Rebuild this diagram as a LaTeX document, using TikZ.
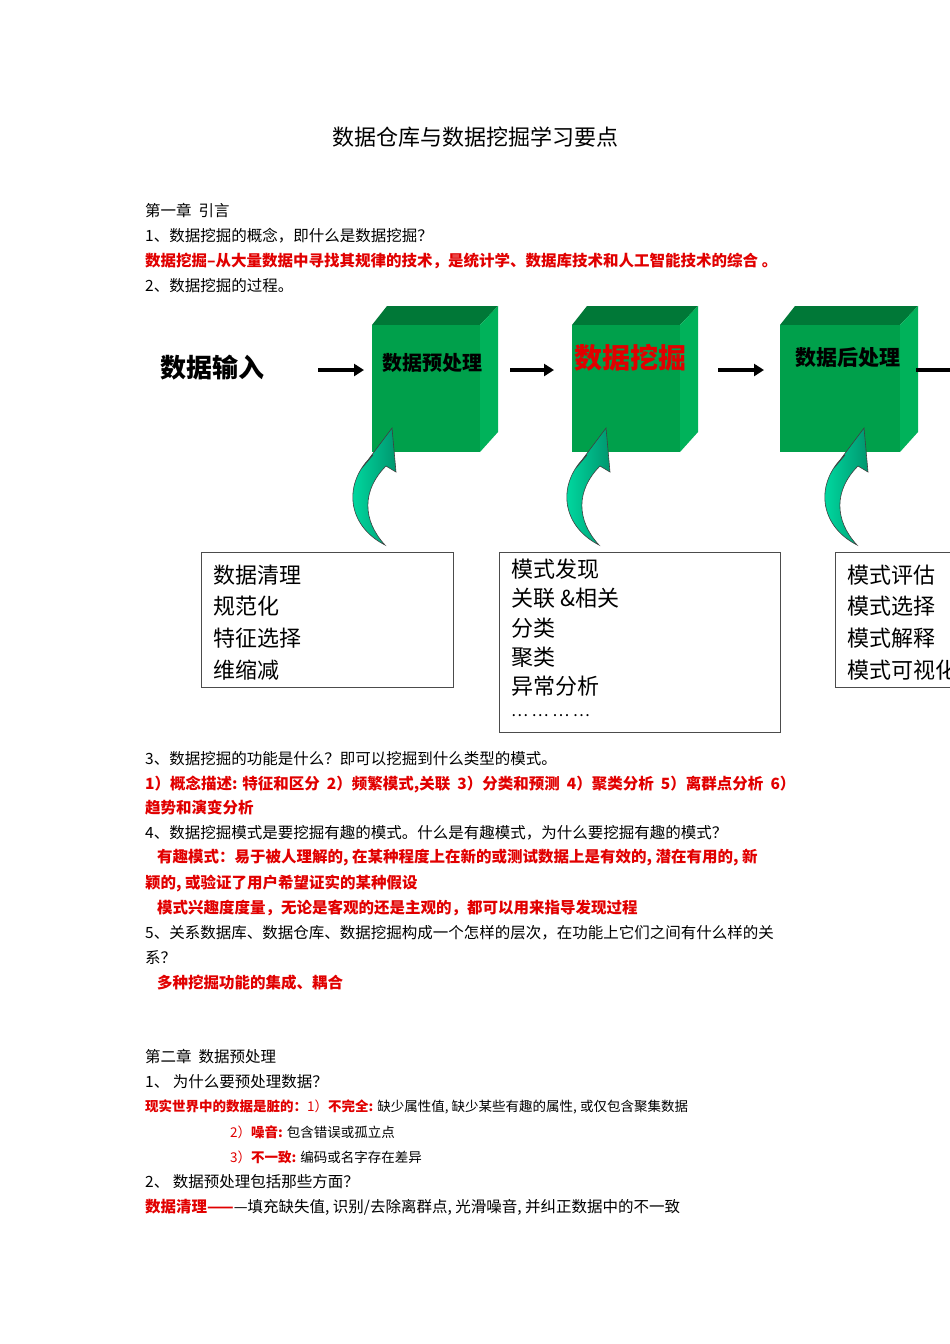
\documentclass[tikz,border=0pt]{standalone}
\usepackage{fontspec}
\setmainfont{Noto Sans CJK SC}
\usetikzlibrary{arrows.meta}
\definecolor{gfront}{RGB}{0,160,75}
\definecolor{gtop}{RGB}{0,120,55}
\definecolor{gside}{RGB}{0,178,90}
\definecolor{tealL}{RGB}{0,230,170}
\definecolor{tealR}{RGB}{0,150,110}
\definecolor{rd}{RGB}{225,0,0}
\begin{document}
\begin{tikzpicture}[x=1pt,y=-1pt,
  t/.style={anchor=west,inner sep=0pt,font=\fontsize{15.5}{15.5}\selectfont},
  r/.style={t,text=rd,font=\fontsize{15.5}{15.5}\selectfont\bfseries},
  s/.style={anchor=west,inner sep=0pt,font=\fontsize{13.5}{13.5}\selectfont},
  bx/.style={anchor=west,inner sep=0pt,font=\fontsize{22}{22}\selectfont},
  tb/.style={draw=black!70,line width=0.8pt},
  blk/.style={-{Triangle[length=10pt,width=12pt]},line width=3.5pt},
]
\useasboundingbox (0,0) rectangle (950,1344);
\fill[white] (0,0) rectangle (950,1344);
\node[inner sep=0pt,font=\fontsize{22}{22}\selectfont] (title) at (475,137) {数据仓库与数据挖掘学习要点};
\node[t] (l1) at (145,211) {第一章\ \ 引言};
\node[t] (l2) at (145,236) {1、数据挖掘的概念，即什么是数据挖掘？};
\node[r] (l3) at (145,261) {数据挖掘--从大量数据中寻找其规律的技术，是统计学、数据库技术和人工智能技术的综合 。};
\node[t] (l4) at (145,286) {2、数据挖掘的过程。};
% cubes
\foreach \x/\w/\n in {372/108/c1,572/108/c2,780/120/c3}{
  \fill[gtop] (\x,325) -- (\x+15,306) -- (\x+\w+18,306) -- (\x+\w,325) -- cycle;
  \fill[gside] (\x+\w,325) -- (\x+\w+18,306) -- (\x+\w+18,432) -- (\x+\w,452) -- cycle;
  \fill[gfront] (\x,325) rectangle (\x+\w,452);
  \coordinate (\n) at (\x+\w/2,365);
}
\node[inner sep=0pt,font=\fontsize{20}{20}\selectfont\bfseries] (p1) at (432,363) {数据预处理};
\node[inner sep=0pt,font=\fontsize{28}{28}\selectfont\bfseries,text=rd] (p2) at (630,358) {数据挖掘};
\node[inner sep=0pt,font=\fontsize{21}{21}\selectfont\bfseries] (p3) at (848,358) {数据后处理};
\node[inner sep=0pt,font=\fontsize{26}{26}\selectfont\bfseries] (in) at (212,368) {数据输入};
\coordinate (a1s) at (318,370); \coordinate (a1e) at (364,370);
\coordinate (a2s) at (510,370); \coordinate (a2e) at (554,370);
\coordinate (a3s) at (718,370); \coordinate (a3e) at (764,370);
\coordinate (a4s) at (916,370); \coordinate (a4e) at (950,370);
\draw[blk] (a1s) -- (a1e);
\draw[blk] (a2s) -- (a2e);
\draw[blk] (a3s) -- (a3e);
\draw[line width=3.5pt] (a4s) -- (a4e);
% curved arrows
\foreach \dx in {0,214,472}{
  \begin{scope}[xshift=\dx]
  \shade[left color=tealL, right color=tealR,draw=black!75,line width=0.6pt]
    (392,428) -- (396,472) -- (386,466) .. controls (362,490) and (362,520) .. (385,545)
    .. controls (346,525) and (343,482) .. (373,455) -- (362,468) -- cycle;
  \end{scope}
}
% text boxes
\draw[tb] (201,552) rectangle (453,687);
\draw[tb] (499,552) rectangle (780,732);
\draw[tb] (835,552) rectangle (960,687);
\node[bx] (b1) at (213,575) {数据清理};
\node[bx] (b2) at (213,606) {规范化};
\node[bx] (b3) at (213,638) {特征选择};
\node[bx] (b4) at (213,670) {维缩减};
\node[bx] (m1) at (511,569) {模式发现};
\node[bx] (m2) at (511,598) {关联 \&相关};
\node[bx] (m3) at (511,628) {分类};
\node[bx] (m4) at (511,657) {聚类};
\node[bx] (m5) at (511,686) {异常分析};
\node[bx,font=\fontsize{16}{16}\selectfont] (m6) at (511,716) {… … … …};
\node[bx] (e1) at (847,575) {模式评估};
\node[bx] (e2) at (847,606) {模式选择};
\node[bx] (e3) at (847,638) {模式解释};
\node[bx] (e4) at (847,670) {模式可视化};
% text below
\node[t] (l5) at (145,759) {3、数据挖掘的功能是什么？即可以挖掘到什么类型的模式。};
\node[r] (l6) at (145,784) {1）概念描述: 特征和区分\ \ 2）频繁模式,关联\ \ 3）分类和预测\ \ 4）聚类分析\ \ 5）离群点分析\ \ 6）};
\node[r] (l7) at (145,808) {趋势和演变分析};
\node[t] (l8) at (145,833) {4、数据挖掘模式是要挖掘有趣的模式。什么是有趣模式，为什么要挖掘有趣的模式？};
\node[r] (l9) at (157,858) {有趣模式：易于被人理解的, 在某种程度上在新的或测试数据上是有效的, 潜在有用的, 新};
\node[r] (l10) at (145,883) {颖的, 或验证了用户希望证实的某种假设};
\node[r] (l11) at (157,908) {模式兴趣度度量，无论是客观的还是主观的，都可以用来指导发现过程};
\node[t] (l12) at (145,933) {5、关系数据库、数据仓库、数据挖掘构成一个怎样的层次，在功能上它们之间有什么样的关};
\node[t] (l13) at (145,958) {系？};
\node[r] (l14) at (157,983) {多种挖掘功能的集成、耦合};
\node[t] (l15) at (145,1057) {第二章\ \ 数据预处理};
\node[t] (l16) at (145,1082) {1、\ 为什么要预处理数据？};
\node[s] (l17) at (145,1107) {\textcolor{rd}{\bfseries 现实世界中的数据是脏的：}\textcolor{rd}{1）}\textcolor{rd}{\bfseries 不完全:} 缺少属性值, 缺少某些有趣的属性, 或仅包含聚集数据};
\node[s] (l18) at (230,1132) {\textcolor{rd}{2）\bfseries 噪音:} 包含错误或孤立点};
\node[s] (l19) at (230,1157) {\textcolor{rd}{3）\bfseries 不一致:} 编码或名字存在差异};
\node[t] (l20) at (145,1182) {2、\ 数据预处理包括那些方面？};
\node[t] (l21) at (145,1207) {\textcolor{rd}{\bfseries 数据清理——}—填充缺失值, 识别/去除离群点, 光滑噪音, 并纠正数据中的不一致};
\end{tikzpicture}
\end{document}
